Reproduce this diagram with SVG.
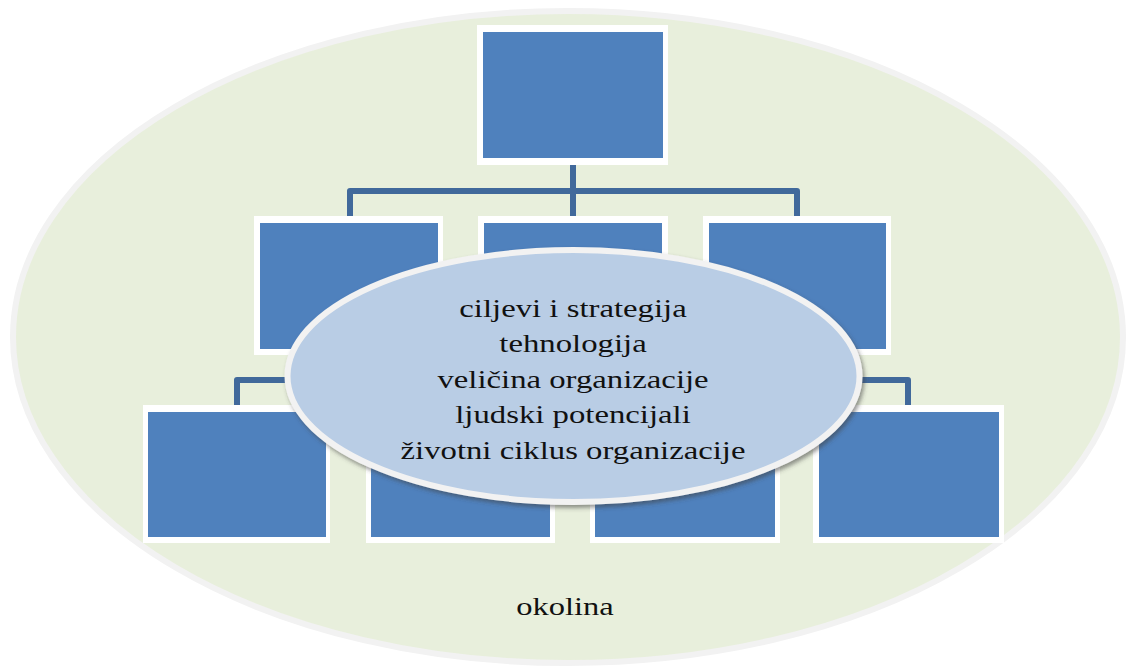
<svg xmlns="http://www.w3.org/2000/svg" width="1126" height="668" viewBox="0 0 1126 668">
<defs>
<style>
.frame{fill:#ffffff;}
.box{fill:#4f81bd;}
.conn{fill:none;stroke:#41699b;stroke-width:6;stroke-linejoin:round;stroke-linecap:butt;}
.txt{font-family:"Liberation Serif","Times New Roman",serif;font-size:26px;fill:#111111;text-anchor:middle;}
</style>
<filter id="sh" x="-10%" y="-10%" width="120%" height="130%">
<feDropShadow dx="2" dy="3" stdDeviation="2" flood-color="#404040" flood-opacity="0.55"/>
</filter>
</defs>
<rect x="0" y="0" width="1126" height="668" fill="#ffffff"/>
<g id="okolina">
<ellipse cx="568" cy="337" rx="555" ry="326" fill="#e8efdc" stroke="#f2f2f2" stroke-width="6"/>
<text class="txt" transform="translate(565,615) scale(1.25,1)" x="0" y="0">okolina</text>
</g>
<g id="connectors">
<path class="conn" d="M573,165 V216"/>
<path class="conn" d="M350,216 V191 H797 V216"/>
<path class="conn" d="M573,355 V380"/>
<path class="conn" d="M237,405 V380 H908 V405"/>
<path class="conn" d="M460,380 V405"/>
<path class="conn" d="M685,380 V405"/>
</g>
<g id="box-top">
<rect class="frame" x="477" y="25" width="191" height="140"/>
<rect class="box" x="483" y="32" width="180" height="126"/>
</g>
<g id="box-mid-left">
<rect class="frame" x="254" y="216" width="189" height="139"/>
<rect class="box" x="260" y="223" width="178" height="126"/>
</g>
<g id="box-mid-center">
<rect class="frame" x="478" y="216" width="190" height="139"/>
<rect class="box" x="484" y="223" width="178" height="126"/>
</g>
<g id="box-mid-right">
<rect class="frame" x="703" y="216" width="188" height="139"/>
<rect class="box" x="709" y="223" width="177" height="126"/>
</g>
<g id="box-bot-1">
<rect class="frame" x="143" y="405" width="187" height="138"/>
<rect class="box" x="148" y="412" width="178" height="125"/>
</g>
<g id="box-bot-2">
<rect class="frame" x="366" y="405" width="189" height="138"/>
<rect class="box" x="371" y="412" width="179" height="125"/>
</g>
<g id="box-bot-3">
<rect class="frame" x="590" y="405" width="190" height="138"/>
<rect class="box" x="595" y="412" width="180" height="125"/>
</g>
<g id="box-bot-4">
<rect class="frame" x="813" y="405" width="191" height="138"/>
<rect class="box" x="819" y="412" width="180" height="125"/>
</g>
<g id="factors">
<ellipse cx="573.5" cy="376" rx="286" ry="126" fill="#b9cde5" stroke="#f2f2f2" stroke-width="6" filter="url(#sh)"/>
<text class="txt" transform="translate(573,316.5) scale(1.26,1)">ciljevi i strategija</text>
<text class="txt" transform="translate(573,352) scale(1.26,1)">tehnologija</text>
<text class="txt" transform="translate(573,387.5) scale(1.26,1)">veličina organizacije</text>
<text class="txt" transform="translate(573,423) scale(1.26,1)">ljudski potencijali</text>
<text class="txt" transform="translate(573,458.5) scale(1.26,1)">životni ciklus organizacije</text>
</g>
</svg>
